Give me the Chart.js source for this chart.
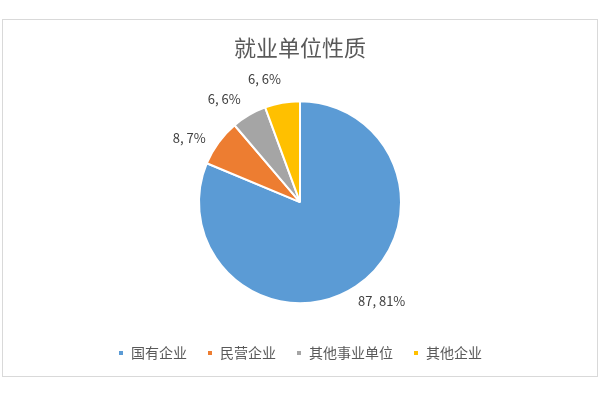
<!DOCTYPE html>
<html lang="zh">
<head>
    <meta charset="utf-8">
    <title>就业单位性质</title>
    <script src="https://cdn.jsdelivr.net/npm/chart.js"></script>
    <style>
        body {
            margin: 0;
            background: #ffffff;
        }
        .wrap {
            position: relative;
            width: 600px;
            height: 400px;
        }
        .frame {
            position: absolute;
            left: 2px;
            top: 19px;
            width: 594px;
            height: 356px;
            border: 1px solid #d9d9d9; /* marco gris claro */
        }
        #pieChart {
            position: absolute;
            left: 0;
            top: 0;
        }
    </style>
</head>
<body>
    <div class="wrap">
        <div class="frame"></div>
        <canvas id="pieChart" width="600" height="400"></canvas>
    </div>

    <script>
        const categories = ['国有企业', '民营企业', '其他事业单位', '其他企业'];
        const counts = [87, 8, 6, 6];
        const colors = ['#5B9BD5', '#ED7D31', '#A5A5A5', '#FFC000'];

        const FONT = "'Noto Sans CJK SC', 'Noto Sans', sans-serif";

        // etiquetas "valor,porcentaje" fuera de cada sector
        const outsideLabels = {
            id: 'outsideLabels',
            afterDatasetsDraw(chart) {
                const ctx = chart.ctx;
                const meta = chart.getDatasetMeta(0);
                const data = chart.data.datasets[0].data;
                const total = data.reduce((a, b) => a + b, 0);
                ctx.save();
                ctx.font = '13px ' + FONT;
                ctx.fillStyle = '#404040';
                ctx.textAlign = 'center';
                ctx.textBaseline = 'middle';
                meta.data.forEach((arc, i) => {
                    const p = arc.getProps(['x', 'y', 'startAngle', 'endAngle', 'outerRadius'], true);
                    const mid = (p.startAngle + p.endAngle) / 2 - 6 * Math.PI / 180;
                    const r = p.outerRadius + 27;
                    const pct = Math.round(data[i] / total * 100);
                    ctx.fillText(data[i] + ', ' + pct + '%', p.x + Math.cos(mid) * r, p.y + Math.sin(mid) * r);
                });
                ctx.restore();
            }
        };

        const chart = new Chart(document.getElementById('pieChart'), {
            type: 'pie',
            data: {
                labels: categories,
                datasets: [{
                    data: counts,
                    backgroundColor: colors,
                    borderColor: '#ffffff',
                    borderWidth: 2,
                    radius: 101
                }]
            },
            options: {
                responsive: false,
                animation: false,
                layout: { padding: { top: 0, bottom: 30, left: 0, right: 0 } },
                plugins: {
                    title: {
                        display: true,
                        text: '就业单位性质',
                        color: '#595959',
                        font: { size: 22, family: FONT, weight: 'normal' },
                        padding: { top: 34, bottom: 18 }
                    },
                    legend: {
                        position: 'bottom',
                        labels: {
                            boxWidth: 6,
                            boxHeight: 6,
                            padding: 20,
                            color: '#595959',
                            font: { size: 14, family: FONT }
                        }
                    },
                    tooltip: { enabled: false }
                }
            },
            plugins: [outsideLabels]
        });
    </script>
</body>
</html>
